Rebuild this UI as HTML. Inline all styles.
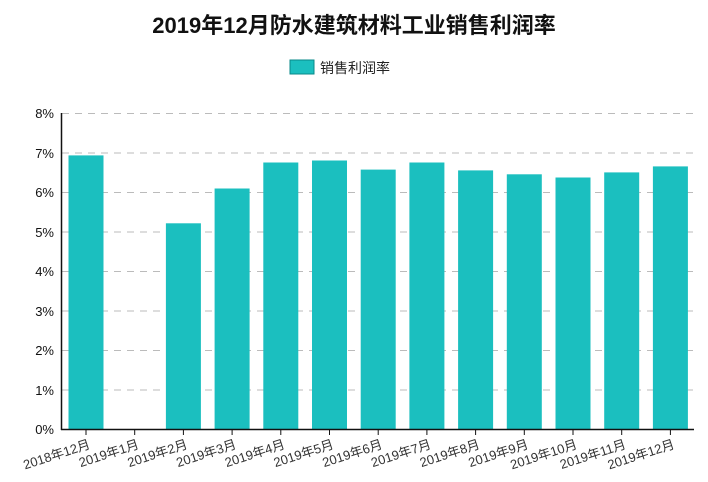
<!DOCTYPE html><html><head><meta charset="utf-8"><style>body{margin:0;background:#fff}svg{display:block}text{font-family:"Liberation Sans","Noto Sans CJK SC",sans-serif}</style></head><body>
<svg width="708" height="482" xmlns="http://www.w3.org/2000/svg">
<text x="354" y="33" text-anchor="middle" font-size="22" font-weight="bold" fill="#111">2019年12月防水建筑材料工业销售利润率</text>
<rect x="290" y="60" width="24" height="14" fill="#1bbfbf" stroke="#0a8a8a" stroke-width="1"/>
<text x="320" y="73" font-size="14" fill="#222">销售利润率</text>
<g stroke="#bbb" stroke-dasharray="7,6" stroke-width="1">
<line x1="62" x2="694" y1="113.5" y2="113.5"/><line x1="62" x2="694" y1="153" y2="153"/><line x1="62" x2="694" y1="192.5" y2="192.5"/><line x1="62" x2="694" y1="232" y2="232"/><line x1="62" x2="694" y1="271.5" y2="271.5"/><line x1="62" x2="694" y1="311" y2="311"/><line x1="62" x2="694" y1="350.5" y2="350.5"/><line x1="62" x2="694" y1="390" y2="390"/>
</g>
<g font-size="13" fill="#111" text-anchor="end">
<text x="54" y="118">8%</text><text x="54" y="158">7%</text><text x="54" y="197">6%</text><text x="54" y="237">5%</text><text x="54" y="276">4%</text><text x="54" y="316">3%</text><text x="54" y="355">2%</text><text x="54" y="395">1%</text><text x="54" y="434">0%</text>
</g>
<g fill="#1bbfbf">
<rect x="68.5" y="155.4" width="35" height="274.1"/>
<rect x="165.9" y="223.3" width="35" height="206.2"/>
<rect x="214.6" y="188.5" width="35" height="241"/>
<rect x="263.3" y="162.5" width="35" height="267"/>
<rect x="312" y="160.5" width="35" height="269"/>
<rect x="360.7" y="169.6" width="35" height="259.9"/>
<rect x="409.4" y="162.5" width="35" height="267"/>
<rect x="458.1" y="170.4" width="35" height="259.1"/>
<rect x="506.8" y="174.3" width="35" height="255.2"/>
<rect x="555.5" y="177.5" width="35" height="252"/>
<rect x="604.2" y="172.4" width="35" height="257.1"/>
<rect x="652.9" y="166.4" width="35" height="263.1"/>
</g>
<g stroke="#111">
<line x1="86" x2="86" y1="429.5" y2="435"/><line x1="134.7" x2="134.7" y1="429.5" y2="435"/><line x1="183.4" x2="183.4" y1="429.5" y2="435"/><line x1="232.1" x2="232.1" y1="429.5" y2="435"/><line x1="280.8" x2="280.8" y1="429.5" y2="435"/><line x1="329.5" x2="329.5" y1="429.5" y2="435"/><line x1="378.2" x2="378.2" y1="429.5" y2="435"/><line x1="426.9" x2="426.9" y1="429.5" y2="435"/><line x1="475.6" x2="475.6" y1="429.5" y2="435"/><line x1="524.3" x2="524.3" y1="429.5" y2="435"/><line x1="573" x2="573" y1="429.5" y2="435"/><line x1="621.7" x2="621.7" y1="429.5" y2="435"/><line x1="670.4" x2="670.4" y1="429.5" y2="435"/>
</g>
<g font-size="13" fill="#333" text-anchor="end">
<text transform="translate(91,448) rotate(-18)">2018年12月</text>
<text transform="translate(139.7,448) rotate(-18)">2019年1月</text>
<text transform="translate(188.4,448) rotate(-18)">2019年2月</text>
<text transform="translate(237.1,448) rotate(-18)">2019年3月</text>
<text transform="translate(285.8,448) rotate(-18)">2019年4月</text>
<text transform="translate(334.5,448) rotate(-18)">2019年5月</text>
<text transform="translate(383.2,448) rotate(-18)">2019年6月</text>
<text transform="translate(431.9,448) rotate(-18)">2019年7月</text>
<text transform="translate(480.6,448) rotate(-18)">2019年8月</text>
<text transform="translate(529.3,448) rotate(-18)">2019年9月</text>
<text transform="translate(578,448) rotate(-18)">2019年10月</text>
<text transform="translate(626.7,448) rotate(-18)">2019年11月</text>
<text transform="translate(675.4,448) rotate(-18)">2019年12月</text>
</g>
<line x1="61.5" x2="61.5" y1="113" y2="430" stroke="#111" stroke-width="1.5"/>
<line x1="61" x2="694" y1="429.5" y2="429.5" stroke="#111" stroke-width="1.5"/>
</svg>
</body></html>
